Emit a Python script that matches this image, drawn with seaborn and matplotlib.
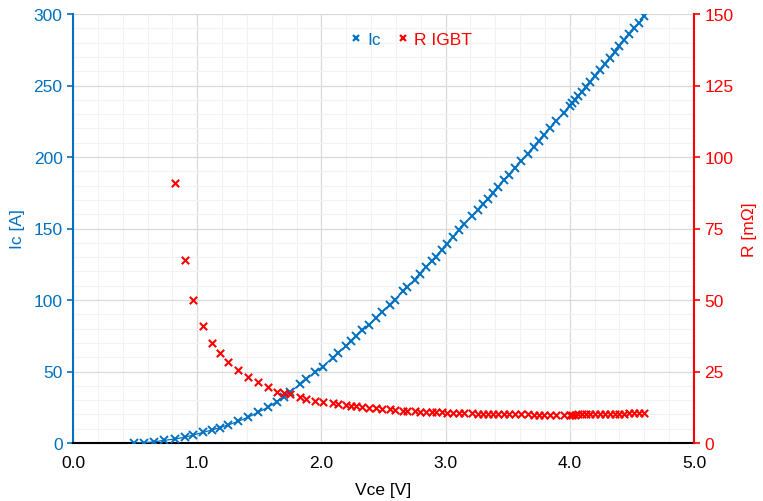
import numpy as np
import pandas as pd
import matplotlib
matplotlib.use("Agg")
import matplotlib.pyplot as plt
from matplotlib.ticker import MultipleLocator, FormatStrFormatter
from matplotlib.lines import Line2D
import seaborn as sns

vce = [0.49, 0.57, 0.65, 0.73, 0.82, 0.90, 0.97, 1.05, 1.12, 1.18, 1.25, 1.33, 1.41, 1.49,
       1.57, 1.64, 1.70, 1.75, 1.83, 1.88, 1.95, 2.01, 2.09, 2.13, 2.20, 2.24, 2.28, 2.33,
       2.38, 2.44, 2.49, 2.55, 2.59, 2.66, 2.69, 2.75, 2.79, 2.84, 2.89, 2.92, 2.97, 3.01,
       3.06, 3.11, 3.15, 3.21, 3.26, 3.30, 3.34, 3.38, 3.42, 3.47, 3.51, 3.56, 3.61, 3.66,
       3.71, 3.75, 3.79, 3.84, 3.89, 3.95, 4.00, 4.02, 4.04, 4.07, 4.10, 4.13, 4.16, 4.20,
       4.24, 4.28, 4.32, 4.36, 4.40, 4.44, 4.48, 4.52, 4.56, 4.60]
ic = [0.0, 0.1, 0.8, 1.8, 2.8, 4.0, 5.6, 7.5, 9.1, 10.7, 12.6, 15.2, 18.0, 21.5,
      25.0, 28.9, 32.4, 36.0, 41.0, 44.8, 49.4, 53.4, 59.6, 62.9, 68.0, 71.0, 74.6, 78.8,
      82.7, 87.4, 91.6, 96.8, 100.3, 106.2, 108.8, 114.2, 118.4, 123.0, 127.5, 130.3, 135.0, 139.3,
      144.1, 148.9, 153.0, 158.6, 163.0, 166.8, 170.7, 174.7, 178.9, 183.8, 187.7, 192.5, 197.4, 202.3,
      207.3, 211.3, 215.3, 220.4, 225.3, 231.0, 235.7, 237.6, 239.6, 242.6, 245.7, 248.9, 252.1, 256.5,
      260.8, 265.0, 269.3, 273.6, 277.9, 282.0, 286.0, 290.0, 293.9, 298.5]
r_igbt = [np.nan, np.nan, np.nan, np.nan, 90.9, 64.1, 50.0, 41.0, 35.0, 31.4, 28.2, 25.5, 23.2, 21.2,
          19.5, 18.0, 17.5, 17.0, 16.1, 15.3, 14.7, 14.2, 14.0, 13.6, 13.4, 13.0, 12.8, 12.6,
          12.4, 12.1, 11.9, 11.9, 11.6, 11.3, 11.2, 11.1, 10.9, 10.9, 10.8, 10.7, 10.7, 10.6,
          10.5, 10.5, 10.4, 10.4, 10.3, 10.3, 10.3, 10.2, 10.2, 10.1, 10.1, 10.0, 10.0, 10.0,
          9.9, 9.9, 9.9, 9.9, 9.9, 9.9, 9.9, 9.9, 9.9, 10.0, 10.0, 10.0, 10.0, 10.1,
          10.1, 10.1, 10.2, 10.2, 10.3, 10.3, 10.4, 10.4, 10.5, 10.5]

df = pd.DataFrame({"Vce": vce, "Ic": ic, "R": r_igbt})

BLUE = "#0070C0"
RED = "#FF0000"
FS = 12.5

sns.set_style("white")
plt.rcParams["font.family"] = ["Liberation Sans", "DejaVu Sans"]

fig = plt.figure(figsize=(7.63, 5.02), dpi=100)
ax = fig.add_axes([73 / 763, 1 - 444 / 502, (694 - 73) / 763, (444 - 15) / 502])
ax2 = ax.twinx()

# grid
ax.set_axisbelow(True)
ax.xaxis.set_major_locator(MultipleLocator(1.0))
ax.xaxis.set_minor_locator(MultipleLocator(0.2))
ax.yaxis.set_major_locator(MultipleLocator(50))
ax.yaxis.set_minor_locator(MultipleLocator(10))
ax.grid(which="minor", color="#f2f2f2", linewidth=0.8)
ax.grid(which="major", color="#d9d9d9", linewidth=0.9)

sns.lineplot(data=df, x="Vce", y="Ic", ax=ax, color=BLUE, marker="x", markersize=5.5,
             markeredgewidth=1.4, markeredgecolor=BLUE, linewidth=0.9, zorder=3)
sns.scatterplot(data=df.dropna(), x="Vce", y="R", ax=ax2, color=RED, marker="x", s=28,
                linewidth=1.5, zorder=3)

ax.set_xlim(0, 5.0)
ax.set_ylim(0, 300)
ax2.set_ylim(0, 150)
ax2.yaxis.set_major_locator(MultipleLocator(25))
ax.xaxis.set_major_formatter(FormatStrFormatter("%.1f"))

ax.spines["top"].set_visible(False)
ax2.spines["top"].set_visible(False)
ax.spines["right"].set_visible(False)
ax2.spines["left"].set_visible(False)
ax2.spines["bottom"].set_visible(False)
ax.spines["left"].set_color(BLUE)
ax.spines["left"].set_linewidth(1.5)
ax2.spines["right"].set_color(RED)
ax2.spines["right"].set_linewidth(1.5)
ax.spines["bottom"].set_color("#000000")
ax.spines["bottom"].set_linewidth(1.5)

ax.tick_params(axis="y", which="major", colors=BLUE, labelsize=FS, length=4, width=1.2, direction="out")
ax.tick_params(axis="y", which="minor", length=0)
ax.tick_params(axis="x", which="major", colors="#000000", labelsize=FS, length=0, pad=9)
ax.tick_params(axis="x", which="minor", length=0)
ax2.tick_params(axis="y", which="major", colors=RED, labelsize=FS, length=4, width=1.2, direction="out")

ax.set_xlabel("Vce [V]", fontsize=FS, color="#000000", labelpad=8)
ax.set_ylabel("Ic [A]", fontsize=FS, color=BLUE, labelpad=6)
ax2.set_ylabel("R [mΩ]", fontsize=FS, color=RED, labelpad=6)

handles = [Line2D([], [], linestyle="none", marker="x", color=BLUE, markersize=5, markeredgewidth=1.6),
           Line2D([], [], linestyle="none", marker="x", color=RED, markersize=5, markeredgewidth=1.6)]
leg = ax.legend(handles, ["Ic", "R IGBT"], loc="upper center", bbox_to_anchor=(0.545, 0.995), ncol=2,
                frameon=False, fontsize=FS, handlelength=0.6, handletextpad=0.35, columnspacing=1.0)
for t, c in zip(leg.get_texts(), [BLUE, RED]):
    t.set_color(c)
if ax2.get_legend() is not None:
    ax2.get_legend().remove()

fig.savefig("out.png", dpi=100)
